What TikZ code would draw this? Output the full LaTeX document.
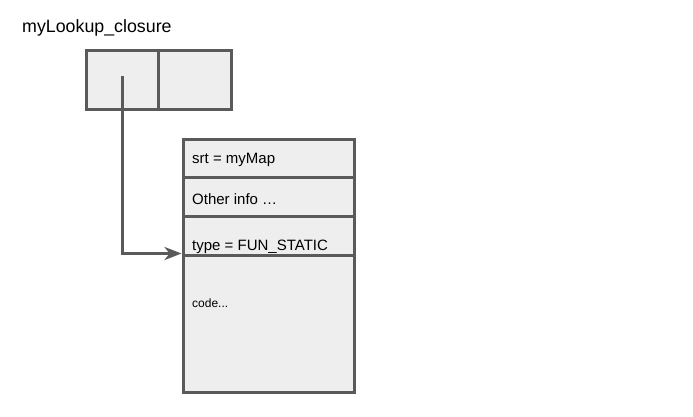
\documentclass[tikz,border=0pt]{standalone}
\usepackage{fontspec}
\setmainfont{Liberation Sans}
\usetikzlibrary{arrows.meta}
\definecolor{cadre}{RGB}{90,90,90}
\definecolor{fond}{RGB}{238,238,238}
\tikzset{
  cell/.style={draw=cadre, fill=fond, line width=3pt, inner sep=0pt},
  lbl/.style={anchor=west, inner sep=0pt, font=\fontsize{15}{15}\selectfont}
}
\begin{document}
\begin{tikzpicture}[x=1pt, y=-1pt]
    \useasboundingbox (0,0) rectangle (693,416);
    % titre
    \node[anchor=west, inner sep=0pt, font=\fontsize{17.8}{18}\selectfont] (titre) at (22,28) {myLookup\_closure};
    % la fermeture
    \node[cell, minimum width=72pt, minimum height=59pt] (celA) at (122,79.5) {};
    \node[cell, minimum width=73pt, minimum height=59pt] (celB) at (194.5,79.5) {};
    % le bloc de la fonction
    \node[cell, minimum width=171pt, minimum height=38pt] (srt) at (268.5,158) {};
    \node[cell, minimum width=171pt, minimum height=39pt] (info) at (268.5,196.5) {};
    \node[cell, minimum width=171pt, minimum height=39pt] (type) at (268.5,235.5) {};
    \node[cell, minimum width=171pt, minimum height=137pt] (code) at (268.5,323.5) {};
    \node[lbl] (tsrt) at (192,160) {srt = myMap};
    \node[lbl] (tinfo) at (192,199.5) {Other info \dots};
    \node[lbl] (ttype) at (192,247) {type = FUN\_STATIC};
    \node[lbl, font=\fontsize{12}{12}\selectfont] (tcode) at (192,303.5) {code...};
    % pointeur
    \coordinate (ptr) at ([yshift=4]celA.center);
    \draw[cadre, line width=3pt, -{Stealth[length=17pt, width=13pt, inset=5pt]}] (ptr) |- (code.north west);
\end{tikzpicture}
\end{document}
